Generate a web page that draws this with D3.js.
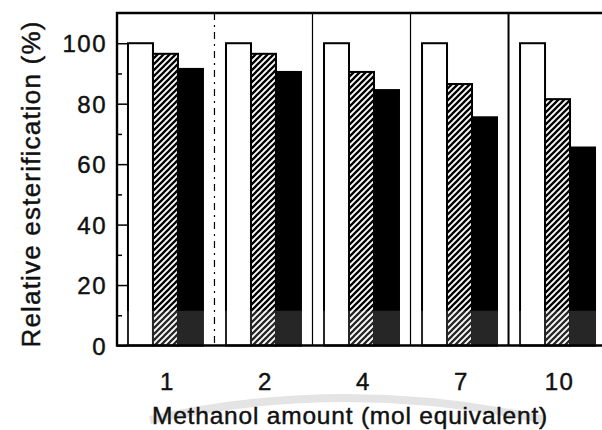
<!DOCTYPE html>
<html>
<head>
<meta charset="utf-8">
<script src="https://cdn.jsdelivr.net/npm/d3@7"></script>
<style>
  body{margin:0;background:#fff;}
  svg{display:block;}
  text{font-family:"Liberation Sans", Arial, Helvetica, sans-serif;fill:#111;stroke:#111;stroke-width:0.45;}
</style>
</head>
<body>
<div id="stage"></div>
<script>
// methanol amount (mol equivalent)
var categories=["1","2","4","7","10"];
var series=["open","hatched","solid"];
// relative esterification (%)
var openVals=[100,100,100,100,100];
var hatchedVals=[96.5,96.5,90.5,86.5,81.5];
var solidVals=[91.5,90.5,84.5,75.5,65.5];
var yTicks=[0,20,40,60,80,100];

var W=602, H=430;
var pLeft=117, pTop=13, pBottom=345.5;

var svg=d3.select("#stage").append("svg")
  .attr("width",W).attr("height",H);

var defs=svg.append("defs");
var pat=defs.append("pattern")
  .attr("id","hatch")
  .attr("patternUnits","userSpaceOnUse")
  .attr("width",6).attr("height",6);
pat.append("rect").attr("width",6).attr("height",6).attr("fill","#fff");
pat.append("path")
  .attr("d","M-1.5,1.5 l3,-3 M0,6 l6,-6 M4.5,7.5 l3,-3")
  .attr("stroke","#000").attr("stroke-width",2.3);

var x=d3.scaleBand()
  .domain(categories)
  .range([pLeft, pLeft+489])
  .paddingInner(0.235)
  .paddingOuter(0.112);

var xs=d3.scaleBand().domain(series).range([0,x.bandwidth()]);

var y=d3.scaleLinear().domain([0,110]).range([pBottom, pTop]);

var rows=categories.map(function(c,i){
  return {cat:c, vals:[
    {s:"open", v:openVals[i]},
    {s:"hatched", v:hatchedVals[i]},
    {s:"solid", v:solidVals[i]}
  ]};
});

var fills={open:"#fff", hatched:"url(#hatch)", solid:"#000"};

var g=svg.selectAll("g.grp").data(rows).enter().append("g")
  .attr("class","grp")
  .attr("transform",function(d){return "translate("+x(d.cat)+",0)";});

g.selectAll("rect").data(function(d){return d.vals;}).enter().append("rect")
  .attr("x",function(d){return xs(d.s);})
  .attr("width",xs.bandwidth())
  .attr("y",function(d){return y(d.v);})
  .attr("height",function(d){return y(0)-y(d.v);})
  .attr("fill",function(d){return fills[d.s];})
  .attr("stroke","#000")
  .attr("stroke-width",2);

// scan shading at the bottom of the plot
svg.append("rect")
  .attr("x",pLeft).attr("width",W-pLeft)
  .attr("y",y(11.5)).attr("height",y(0)-y(11.5))
  .attr("fill","#fff").attr("opacity",0.15);

// group dividers
var divs=categories.slice(0,-1).map(function(c){
  var step=x.step(), bw=x.bandwidth();
  return x(c)+bw+(step-bw)/2;
});
svg.selectAll("line.div").data(divs).enter().append("line")
  .attr("class","div")
  .attr("x1",function(d){return d;}).attr("x2",function(d){return d;})
  .attr("y1",pTop).attr("y2",pBottom)
  .attr("stroke","#000")
  .attr("stroke-width",function(d,i){return i==3?2:1.2;})
  .attr("stroke-dasharray",function(d,i){return i==0?"7,5,2,5":null;});

// frame
svg.append("path")
  .attr("d","M"+(W+5)+","+pTop+" H"+pLeft+" V"+pBottom+" H"+(W+5))
  .attr("fill","none").attr("stroke","#000").attr("stroke-width",2.4);

// y ticks, inward
var yAxis=d3.axisRight(y).tickValues(yTicks).tickSize(10).tickFormat("");
svg.append("g").attr("transform","translate("+pLeft+",0)").call(yAxis)
  .call(function(a){a.select(".domain").remove();a.selectAll("line").attr("stroke-width",1.5);});
var yMinor=d3.axisRight(y).tickValues([10,30,50,70,90]).tickSize(5).tickFormat("");
svg.append("g").attr("transform","translate("+pLeft+",0)").call(yMinor)
  .call(function(a){a.select(".domain").remove();a.selectAll("line").attr("stroke-width",1.5);});

svg.selectAll("text.ylab").data(yTicks).enter().append("text")
  .attr("class","ylab")
  .attr("x",107).attr("y",function(d){return y(d)+9;})
  .attr("text-anchor","end")
  .style("font-size","24px").style("letter-spacing","1.5px")
  .text(function(d){return d;});

svg.selectAll("text.xlab").data(categories).enter().append("text")
  .attr("class","xlab")
  .attr("x",function(d){return x(d)+x.bandwidth()/2+2;})
  .attr("y",390)
  .attr("text-anchor","middle")
  .style("font-size","24px").style("letter-spacing","1.5px")
  .text(function(d){return d;});

// faint arc behind x title
svg.append("path")
  .attr("d","M150,420 Q345,376 545,420")
  .attr("fill","none").attr("stroke","#e4e4e4").attr("stroke-width",8);

svg.append("text")
  .attr("x",350).attr("y",424)
  .attr("text-anchor","middle")
  .style("font-size","24.5px").style("letter-spacing","0.8px")
  .text("Methanol amount (mol equivalent)");

svg.append("text")
  .attr("transform","translate(40,184) rotate(-90)")
  .attr("text-anchor","middle")
  .style("font-size","26px").style("letter-spacing","1.2px")
  .text("Relative esterification (%)");
</script>
</body>
</html>
